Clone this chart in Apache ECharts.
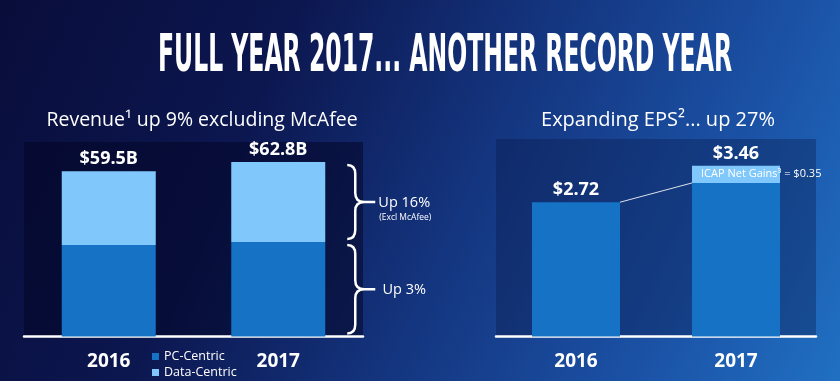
<!DOCTYPE html>
<html>
<head>
<meta charset="utf-8">
<script src="https://cdn.jsdelivr.net/npm/echarts@6/dist/echarts.min.js"></script>
<style>html,body{margin:0;padding:0;background:#0b1445;}#c{width:840px;height:381px;}</style>
</head>
<body>
<div id="c"></div>
<script>
// ---- data ----
const years = ['2016', '2017'];
const pcCentric = [32.9, 34.0];
const dataCentric = [26.6, 28.8];
const revenueTotals = [59.5, 62.8];
const epsBase = [2.72, 3.11];
const icapGains = [0, 0.35];
const epsTotals = [2.72, 3.46];
const braceLabels = ['Up 3%', 'Up 16%'];
const braceNotes = ['', '(Excl McAfee)'];
const titleText = 'FULL YEAR 2017... ANOTHER RECORD YEAR';
const revenueTitle = 'Revenue\u00b9 up 9% excluding McAfee';
const epsTitle = 'Expanding EPS\u00b2... up 27%';
const icapText = 'ICAP Net Gains\u00b3 = $0.35';

const FONT = '"Open Sans", "Noto Sans", sans-serif';
const TITLE_FONT = 'bold 51px "DejaVu Sans Condensed", "DejaVu Sans", sans-serif';

// compress title horizontally to fit target width
const mctx = document.createElement('canvas').getContext('2d');
mctx.font = TITLE_FONT;
const titleScale = 574 / mctx.measureText(titleText).width;

const chart = echarts.init(document.getElementById('c'), null, {renderer: 'canvas'});

const REV_BAR_W = 94;
const EPS_BAR_W = 88;

const option = {
  animation: false,
  backgroundColor: new echarts.graphic.LinearGradient(0, 0, 1, 1, [
    {offset: 0, color: '#090d3a'},
    {offset: 0.3, color: '#0c1750'},
    {offset: 0.55, color: '#14357f'},
    {offset: 0.8, color: '#1b52a6'},
    {offset: 1, color: '#2070c2'}
  ]),
  graphic: [
    {type: 'text', x: 158, y: 58, scaleX: titleScale, z: 10,
     style: {text: titleText, font: TITLE_FONT, fill: '#fff', align: 'left', verticalAlign: 'middle'}},
    {type: 'text', x: 202, y: 120, z: 10,
     style: {text: revenueTitle, font: '19.5px ' + FONT, fill: '#fff', align: 'center', verticalAlign: 'middle'}},
    {type: 'text', x: 658, y: 120, z: 10,
     style: {text: epsTitle, font: '20px ' + FONT, fill: '#fff', align: 'center', verticalAlign: 'middle'}}
  ],
  legend: {
    data: ['PC-Centric', 'Data-Centric'],
    orient: 'vertical', left: 152, top: 350, padding: 0,
    itemWidth: 7, itemHeight: 7, itemGap: 3, icon: 'rect', selectedMode: false,
    textStyle: {color: '#fff', fontSize: 12.5, lineHeight: 12, fontFamily: FONT}
  },
  grid: [
    {left: 24, top: 142, width: 339, bottom: 44.5, show: true, backgroundColor: 'rgba(3,5,38,0.55)', borderWidth: 0},
    {left: 496, top: 139, width: 320, bottom: 44.5, show: true, backgroundColor: 'rgba(8,22,70,0.35)', borderWidth: 0}
  ],
  xAxis: [0, 1].map(i => ({
    type: 'category', gridIndex: i, data: years,
    axisLine: {lineStyle: {color: '#fff', width: 2.5}},
    axisTick: {show: false},
    axisLabel: {color: '#fff', fontWeight: 'bold', fontSize: 19, margin: 15, lineHeight: 20, fontFamily: FONT}
  })),
  yAxis: [
    {type: 'value', gridIndex: 0, min: 0, max: 70, show: false},
    {type: 'value', gridIndex: 1, min: 0, max: 4, show: false}
  ],
  series: [
    {name: 'PC-Centric', type: 'bar', stack: 'rev', xAxisIndex: 0, yAxisIndex: 0,
     barWidth: REV_BAR_W, data: pcCentric, itemStyle: {color: '#1572c4'}},
    {name: 'Data-Centric', type: 'bar', stack: 'rev', xAxisIndex: 0, yAxisIndex: 0,
     barWidth: REV_BAR_W, data: dataCentric, itemStyle: {color: '#80c8fb'},
     label: {show: true, position: 'top', distance: 3, color: '#fff', fontWeight: 'bold', fontSize: 18, fontFamily: FONT,
             formatter: p => '$' + revenueTotals[p.dataIndex].toFixed(1) + 'B'}},
    {name: 'EPS', type: 'bar', stack: 'eps', xAxisIndex: 1, yAxisIndex: 1,
     barWidth: EPS_BAR_W, data: epsBase, itemStyle: {color: '#1572c4'},
     label: {show: true, position: 'top', distance: 3, color: '#fff', fontWeight: 'bold', fontSize: 18, fontFamily: FONT,
             formatter: p => icapGains[p.dataIndex] ? '' : '$' + epsTotals[p.dataIndex].toFixed(2)}},
    {name: 'ICAP', type: 'bar', stack: 'eps', xAxisIndex: 1, yAxisIndex: 1,
     barWidth: EPS_BAR_W, data: icapGains, itemStyle: {color: '#80c8fb'},
     label: {show: true, position: 'top', distance: 3, color: '#fff', fontWeight: 'bold', fontSize: 18, fontFamily: FONT,
             formatter: p => icapGains[p.dataIndex] ? '$' + epsTotals[p.dataIndex].toFixed(2) : ''}},
    // connector line + ICAP annotation
    {type: 'custom', xAxisIndex: 1, yAxisIndex: 1, z: 5,
     data: [[0, epsTotals[0], 1, epsBase[1]]],
     encode: {x: [0, 2], y: [1, 3]},
     renderItem: (params, api) => {
       const a = api.coord([api.value(0), api.value(1)]);
       const b = api.coord([api.value(2), api.value(3)]);
       const mid = api.coord([1, epsBase[1] + icapGains[1] / 2]);
       return {type: 'group', children: [
         {type: 'line', shape: {x1: a[0] + EPS_BAR_W / 2, y1: a[1], x2: b[0] - EPS_BAR_W / 2, y2: b[1]},
          style: {stroke: 'rgba(255,255,255,0.85)', lineWidth: 1}},
         {type: 'text', x: mid[0] - EPS_BAR_W / 2 + 9, y: mid[1],
          style: {text: icapText, font: '11px ' + FONT, fill: '#fff', align: 'left', verticalAlign: 'middle'}}
       ]};
     }},
    // braces
    {type: 'custom', xAxisIndex: 0, yAxisIndex: 0, z: 5,
     data: [[1, 0, pcCentric[1]], [1, pcCentric[1], pcCentric[1] + dataCentric[1]]],
     encode: {x: 0, y: [1, 2]},
     renderItem: (params, api) => {
       const lo = api.coord([api.value(0), api.value(1)]);
       const hi = api.coord([api.value(0), api.value(2)]);
       const right = lo[0] + REV_BAR_W / 2;
       const xL = right + 22, xS = right + 30, xT = right + 50;
       const y0 = hi[1] + 3, y1 = lo[1] - 3, ym = (y0 + y1) / 2, r = 9;
       const path = `M${xL} ${y0} Q${xS} ${y0} ${xS} ${y0 + r} L${xS} ${ym - r} Q${xS} ${ym} ${xS + r} ${ym} L${xT} ${ym} ` +
                    `M${xS + r} ${ym} Q${xS} ${ym} ${xS} ${ym + r} L${xS} ${y1 - r} Q${xS} ${y1} ${xL} ${y1}`;
       const i = params.dataIndex;
       const children = [
         {type: 'path', shape: {pathData: path}, style: {stroke: '#fff', lineWidth: 2.5, fill: null}},
         {type: 'text', x: right + 79, y: ym + 1,
          style: {text: braceLabels[i], font: '14.5px ' + FONT, fill: '#fff', align: 'center', verticalAlign: 'middle'}}
       ];
       if (braceNotes[i]) {
         children.push({type: 'text', x: right + 80, y: ym + 16,
          style: {text: braceNotes[i], font: '8.5px ' + FONT, fill: '#fff', align: 'center', verticalAlign: 'middle'}});
       }
       return {type: 'group', children};
     }}
  ]
};
chart.setOption(option);
</script>
</body>
</html>
